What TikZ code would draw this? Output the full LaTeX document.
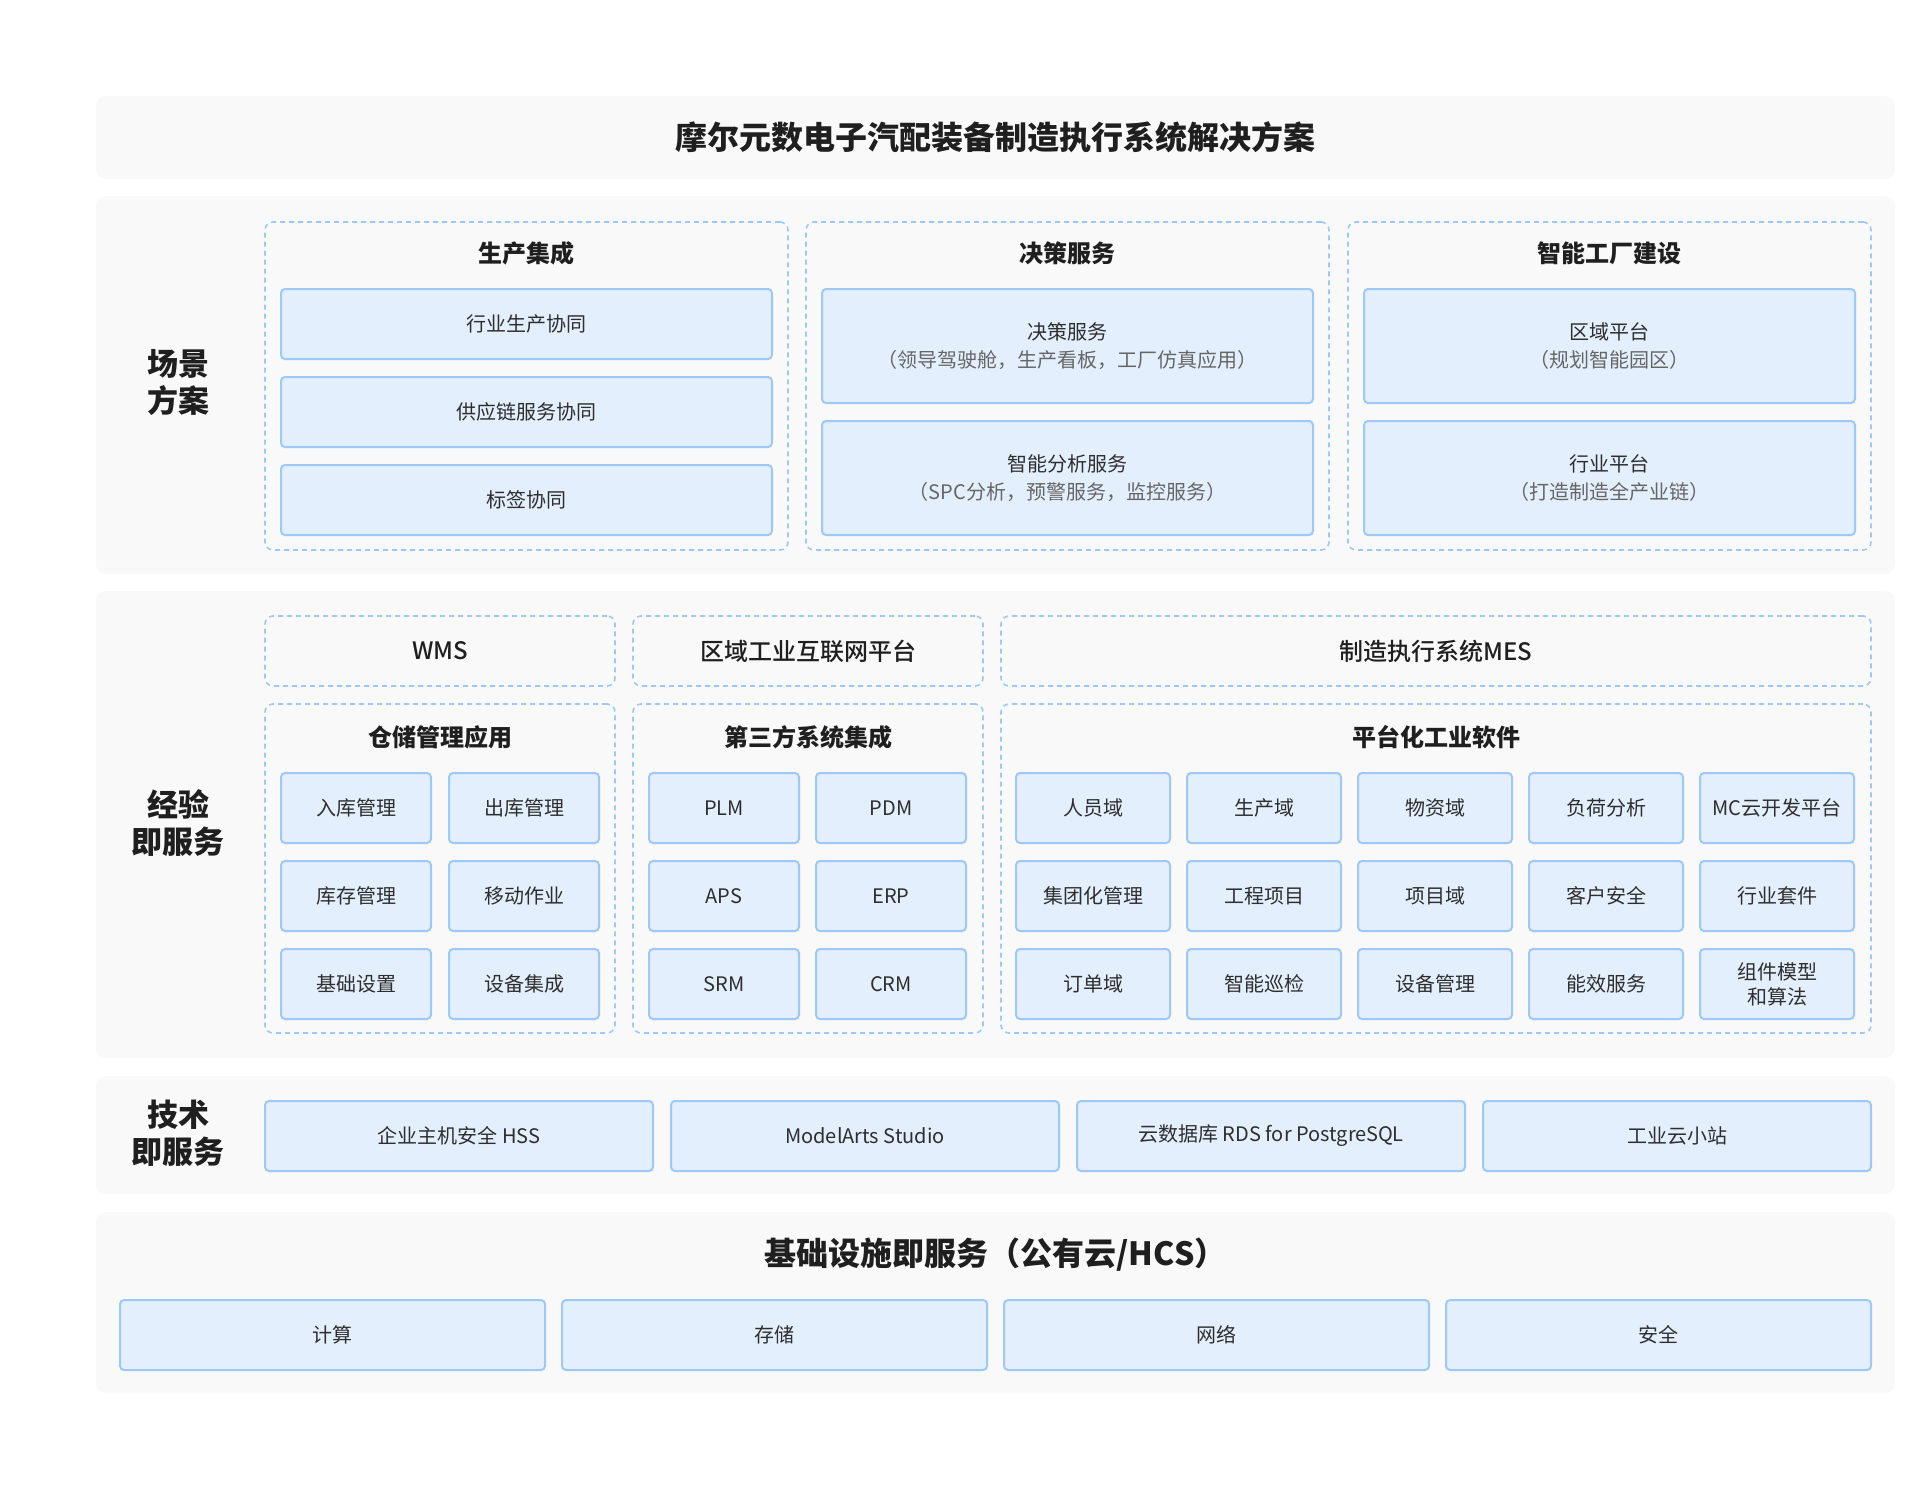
\documentclass[tikz,border=0pt]{standalone}
\usepackage{fontspec}
\setmainfont{Noto Sans CJK SC}
\newfontfamily\cjkmedium{Noto Sans CJK SC Medium}
\usepackage{xcolor}
\usetikzlibrary{positioning}

\definecolor{bandgray}{HTML}{F9F9F9}
\definecolor{boxfill}{HTML}{E3EFFC}
\definecolor{boxline}{HTML}{9CC9F7}
\definecolor{txtdark}{HTML}{1F1F1F}
\definecolor{txtbox}{HTML}{2E2E2E}
\definecolor{txtgray}{HTML}{666666}

\begin{document}
\begin{tikzpicture}[
  x=1pt, y=-1pt,
  band/.style={fill=bandgray, rounded corners=10pt, inner sep=0pt,
    minimum width=1799pt},
  grp/.style={draw=boxline, dash pattern=on 5pt off 4pt, line width=1.6pt,
    rounded corners=8pt, inner sep=0pt, text=txtdark,
    font=\fontsize{24}{28}\selectfont\cjkmedium},
  box/.style={draw=boxline, fill=boxfill, line width=2pt,
    rounded corners=4pt, inner sep=0pt, align=center, text=txtbox,
    font=\fontsize{20}{28}\selectfont},
  small/.style={box, minimum width=150pt, minimum height=70pt},
  mes/.style={box, minimum width=154pt, minimum height=70pt},
  gtitle/.style={text=txtdark, inner sep=0pt,
    font=\fontsize{24}{28}\selectfont\bfseries},
  side/.style={text=txtdark, inner sep=0pt, align=center,
    font=\fontsize{31}{37}\selectfont\bfseries}
]
\useasboundingbox (0,0) rectangle (1920,1492);

% layer bands
\node[band, minimum height=83pt, text=txtdark,
  font=\fontsize{32}{38}\selectfont\bfseries] (title) at (995.5,137.5)
  {摩尔元数电子汽配装备制造执行系统解决方案};
\node[band, minimum height=378pt] (scene) at (995.5,385) {};
\node[band, minimum height=467pt] (exper) at (995.5,824.5) {};
\node[band, minimum height=118pt] (tech) at (995.5,1135) {};
\node[band, minimum height=181pt] (infra) at (995.5,1302.5) {};

\node[side] (scenelbl) at (178,383) {场景\\方案};
\node[side] (experlbl) at (178,823) {经验\\即服务};
\node[side] (techlbl) at (178,1133) {技术\\即服务};

% scene solutions
\node[grp, minimum width=523pt, minimum height=328pt] (prodgrp) at (526.5,386) {};
\node[grp, minimum width=523pt, minimum height=328pt] (decgrp) at (1067.5,386) {};
\node[grp, minimum width=523pt, minimum height=328pt] (facgrp) at (1609.5,386) {};
\node[gtitle] (prodttl) at (526.5,253) {生产集成};
\node[gtitle] (decttl) at (1067.5,253) {决策服务};
\node[gtitle] (facttl) at (1609.5,253) {智能工厂建设};

\node[box, minimum width=491pt, minimum height=70pt] (hysc) at (526.5,324) {行业生产协同};
\node[box, minimum width=491pt, minimum height=70pt] (gyl) at (526.5,412) {供应链服务协同};
\node[box, minimum width=491pt, minimum height=70pt] (bq) at (526.5,500) {标签协同};

\node[box, minimum width=491pt, minimum height=114pt] (jcfw) at (1067.5,346)
  {决策服务\\\textcolor{txtgray}{（领导驾驶舱，生产看板，工厂仿真应用）}};
\node[box, minimum width=491pt, minimum height=114pt] (znfx) at (1067.5,478)
  {智能分析服务\\\textcolor{txtgray}{（SPC分析，预警服务，监控服务）}};

\node[box, minimum width=491pt, minimum height=114pt] (qypt) at (1609.5,346)
  {区域平台\\\textcolor{txtgray}{（规划智能园区）}};
\node[box, minimum width=491pt, minimum height=114pt] (hypt) at (1609.5,478)
  {行业平台\\\textcolor{txtgray}{（打造制造全产业链）}};

% experience as a service
\node[grp, minimum width=350pt, minimum height=70pt] (wms) at (440,651) {WMS};
\node[grp, minimum width=350pt, minimum height=70pt] (iiot) at (808,651) {区域工业互联网平台};
\node[grp, minimum width=870pt, minimum height=70pt] (messys) at (1436,651) {制造执行系统MES};

\node[grp, minimum width=350pt, minimum height=329pt] (ccgrp) at (440,868.5) {};
\node[grp, minimum width=350pt, minimum height=329pt] (dsfgrp) at (808,868.5) {};
\node[grp, minimum width=870pt, minimum height=329pt] (ptgrp) at (1436,868.5) {};
\node[gtitle] (ccttl) at (440,737) {仓储管理应用};
\node[gtitle] (dsfttl) at (808,737) {第三方系统集成};
\node[gtitle] (ptttl) at (1436,737) {平台化工业软件};

\node[small] (rkgl) at (356,808) {入库管理};
\node[small] (ckgl) at (524,808) {出库管理};
\node[small] (kcgl) at (356,896) {库存管理};
\node[small] (ydzy) at (524,896) {移动作业};
\node[small] (jcsz) at (356,984) {基础设置};
\node[small] (sbjc) at (524,984) {设备集成};

\node[small] (plm) at (724,808) {PLM};
\node[small] (pdm) at (891,808) {PDM};
\node[small] (aps) at (724,896) {APS};
\node[small] (erp) at (891,896) {ERP};
\node[small] (srm) at (724,984) {SRM};
\node[small] (crm) at (891,984) {CRM};

\node[mes] (ryy) at (1093,808) {人员域};
\node[mes] (scy) at (1264,808) {生产域};
\node[mes] (wzy) at (1435,808) {物资域};
\node[mes] (fhfx) at (1606,808) {负荷分析};
\node[mes] (mcyun) at (1777,808) {MC云开发平台};
\node[mes] (jtgl) at (1093,896) {集团化管理};
\node[mes] (gcxm) at (1264,896) {工程项目};
\node[mes] (xmy) at (1435,896) {项目域};
\node[mes] (khaq) at (1606,896) {客户安全};
\node[mes] (hytj) at (1777,896) {行业套件};
\node[mes] (ddy) at (1093,984) {订单域};
\node[mes] (znxj) at (1264,984) {智能巡检};
\node[mes] (sbgl) at (1435,984) {设备管理};
\node[mes] (nxfw) at (1606,984) {能效服务};
\node[mes, font=\fontsize{20}{25}\selectfont] (zjmx) at (1777,984) {组件模型\\和算法};

% technology as a service
\node[box, minimum width=388pt, minimum height=70pt] (hss) at (459,1136) {企业主机安全 HSS};
\node[box, minimum width=388pt, minimum height=70pt] (modelarts) at (865,1136) {ModelArts Studio};
\node[box, minimum width=388pt, minimum height=70pt] (rds) at (1271,1136) {云数据库 RDS for PostgreSQL};
\node[box, minimum width=388pt, minimum height=70pt] (yzz) at (1677,1136) {工业云小站};

% infrastructure as a service
\node[text=txtdark, inner sep=0pt, font=\fontsize{32}{38}\selectfont\bfseries]
  (infrattl) at (995.5,1255) {基础设施即服务（公有云/HCS）};
\node[box, minimum width=425pt, minimum height=70pt] (compute) at (332.5,1335) {计算};
\node[box, minimum width=425pt, minimum height=70pt] (storage) at (774.5,1335) {存储};
\node[box, minimum width=425pt, minimum height=70pt] (network) at (1216.5,1335) {网络};
\node[box, minimum width=425pt, minimum height=70pt] (security) at (1658.5,1335) {安全};
\end{tikzpicture}
\end{document}
